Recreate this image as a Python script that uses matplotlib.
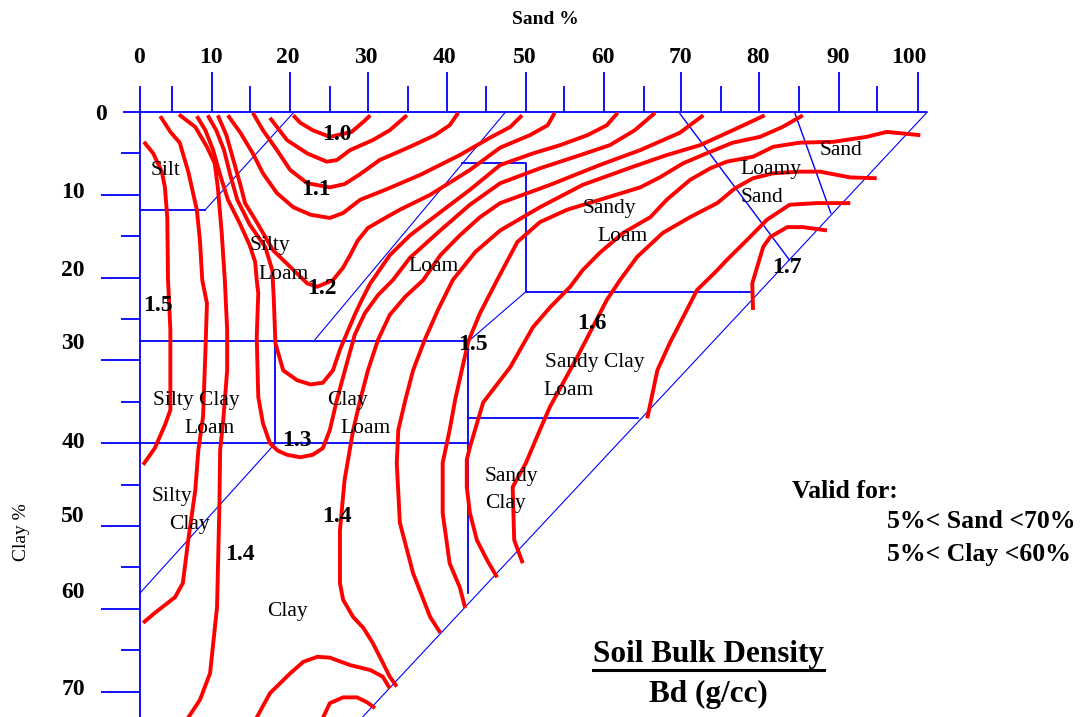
import matplotlib
matplotlib.use("Agg")
import matplotlib.pyplot as plt
from matplotlib.lines import Line2D

plt.rcParams['font.family'] = ['Liberation Serif', 'DejaVu Serif']

# ---- bulk density contour lines (sand %, clay %) ----
c1_sand = [0.5, 1.7, 2.8, 3.2, 3.5, 3.6, 3.9, 3.9, 3.2, 1.9, 0.4]
c1_clay = [3.6, 5.0, 7.2, 9.1, 12.7, 20.3, 26.3, 36.0, 37.8, 40.6, 42.6]

c2_sand = [2.6, 3.9, 5.1, 6.2, 7.3, 7.7, 8.0, 8.6, 8.4, 8.1, 7.5, 7.1, 6.2, 5.5, 4.5, 1.9, 0.4]
c2_clay = [0.5, 2.4, 3.7, 7.2, 11.8, 15.5, 20.3, 23.1, 29.1, 36.8, 40.8, 45.7, 51.7, 56.9, 58.6, 60.5, 61.7]

c3_sand = [5.0, 7.1, 8.6, 9.6, 10.0, 10.5, 10.9, 11.2, 11.2, 10.7, 10.3, 10.2, 9.9, 9.0, 7.7, 5.6]
c3_clay = [0.3, 1.8, 4.2, 6.2, 9.1, 14.6, 20.3, 26.3, 31.2, 37.2, 40.8, 47.7, 59.8, 67.8, 71.0, 74.0]

c4_sand = [7.3, 8.4, 9.4, 10.3, 11.3, 12.9, 14.1, 14.8, 15.0, 15.2, 15.0, 15.2, 15.8, 16.7, 17.7,
           18.9, 20.6, 22.2, 23.5, 24.4, 25.3, 26.6, 27.6, 28.9, 30.6, 32.5, 34.7, 38.6, 42.4, 46.3,
           51.4, 56.6, 60.4, 63.6, 66.2]
c4_clay = [0.5, 2.2, 4.6, 7.6, 10.6, 13.6, 16.1, 18.1, 20.3, 21.9, 27.2, 34.4, 37.6, 40.0, 40.9,
           41.4, 41.7, 41.4, 40.6, 38.4, 34.8, 30.3, 26.9, 24.3, 22.1, 20.3, 17.6, 14.3, 11.2, 8.6,
           6.8, 5.2, 4.0, 2.2, 0.1]

c5_sand = [8.7, 9.8, 10.8, 11.6, 12.5, 14.1, 16.1, 17.0, 17.2, 17.4, 18.4, 20.2, 21.9, 23.5, 24.8,
           25.7, 26.6, 27.6, 28.5, 29.6, 32.1, 34.7, 38.6, 42.4, 46.3, 50.5, 54.0, 57.5, 60.0, 61.4]
c5_clay = [0.4, 2.2, 4.6, 7.6, 10.6, 13.6, 16.3, 19.1, 22.7, 27.9, 31.2, 32.4, 32.9, 32.7, 31.2,
           28.7, 26.7, 24.5, 22.7, 20.7, 17.3, 14.9, 12.1, 9.4, 6.4, 5.0, 4.0, 2.8, 1.6, 0.1]

c6_sand = [10.0, 11.1, 12.0, 12.9, 13.5, 15.0, 17.1, 19.3, 21.5, 22.8, 24.8, 26.1, 27.0, 28.0,
           29.3, 31.5, 33.4, 37.3, 42.4, 46.3, 50.1, 52.4, 53.3]
c6_clay = [0.4, 2.8, 5.8, 8.8, 11.0, 13.3, 16.7, 18.7, 20.7, 21.1, 20.3, 18.8, 17.3, 15.5,
           14.0, 12.8, 11.8, 10.0, 7.0, 4.3, 2.8, 1.6, 0.1]

c7_sand = [11.3, 12.9, 14.5, 15.8, 17.6, 19.7, 21.9, 24.4, 26.1, 28.3, 31.5, 36.0, 41.1, 45.0, 47.6, 49.1]
c7_clay = [0.4, 2.5, 5.0, 7.4, 9.8, 11.5, 12.4, 12.8, 12.2, 10.6, 9.4, 7.6, 5.2, 3.1, 1.8, 0.4]

c8_sand = [14.5, 15.8, 17.6, 19.3, 21.5, 24.4, 26.3, 28.3, 30.8, 34.7, 37.9, 39.8, 40.9]
c8_clay = [0.1, 2.2, 4.6, 7.0, 8.6, 9.1, 8.7, 7.5, 5.8, 4.2, 2.8, 1.6, 0.1]

c9_sand = [16.7, 18.9, 21.5, 24.0, 25.3, 27.0, 29.9, 32.1, 34.3]
c9_clay = [0.7, 3.4, 5.0, 6.0, 5.8, 4.6, 3.4, 2.2, 0.4]

c10_sand = [19.7, 20.6, 22.2, 24.4, 27.2, 28.7, 29.6]
c10_clay = [0.4, 1.3, 2.2, 3.0, 2.4, 1.2, 0.4]

c11_sand = [33.0, 32.1, 31.2, 29.9, 28.7, 27.4, 26.1, 25.7, 25.7, 26.3, 27.4, 28.3, 29.3, 30.6,
            32.1, 34.1, 36.4, 38.6, 41.1, 43.7, 46.3, 52.7, 59.1, 64.3, 69.4, 72.4]
c11_clay = [69.4, 68.2, 66.5, 64.1, 62.3, 61.0, 58.9, 56.9, 50.5, 44.4, 38.4, 34.8, 31.2, 27.5,
            24.5, 22.3, 20.3, 17.3, 14.9, 12.7, 11.0, 8.8, 6.4, 4.6, 2.5, 0.4]

c12_sand = [38.6, 37.3, 35.1, 33.4, 33.0, 33.2, 34.1, 35.1, 36.6, 38.3, 40.2, 43.1, 46.3, 51.4,
            56.9, 63.4, 67.7, 72.0, 76.2, 80.3]
c12_clay = [62.9, 61.0, 55.7, 49.6, 42.4, 38.4, 34.8, 31.2, 27.5, 23.9, 20.3, 16.9, 14.3, 11.5,
            8.8, 6.6, 5.2, 4.0, 2.2, 0.4]

c13_sand = [41.8, 41.1, 39.8, 38.9, 38.9, 39.8, 40.5, 41.5, 42.2, 43.7, 45.9, 48.5, 51.4, 54.9,
            59.1, 64.3, 66.8, 69.8, 72.8, 76.2, 79.7, 82.6, 85.2]
c13_clay = [59.9, 57.4, 54.5, 48.4, 42.4, 38.4, 34.8, 30.6, 27.7, 24.3, 20.3, 15.7, 13.3, 11.8,
            10.6, 9.1, 7.9, 6.2, 5.0, 3.7, 3.0, 1.8, 0.4]

c14_sand = [45.9, 44.6, 43.3, 42.4, 42.0, 42.0, 42.4, 44.1, 47.6, 50.5, 52.7, 55.3, 56.9, 59.1,
            62.1, 65.6, 67.7, 70.7, 73.3, 75.4, 78.8, 81.4, 84.8, 89.1, 93.4, 96.0, 100.3]
c14_clay = [56.2, 54.1, 51.7, 48.4, 45.3, 42.0, 40.5, 35.1, 30.8, 26.0, 23.6, 21.1, 19.1, 17.0,
            14.6, 12.7, 10.6, 8.2, 6.8, 6.0, 5.4, 4.2, 3.7, 3.6, 3.0, 2.4, 2.8]

c15_sand = [49.2, 48.1, 47.9, 49.6, 51.4, 52.7, 56.2, 57.8, 60.0, 61.7, 63.9, 67.2, 70.7, 74.2,
            76.5, 78.8, 81.4, 84.8, 87.4, 91.3, 94.7]
c15_clay = [54.5, 51.7, 45.3, 42.4, 38.4, 35.6, 29.6, 26.7, 22.7, 20.3, 17.5, 14.6, 12.7, 11.0,
            9.2, 8.0, 7.4, 7.2, 7.2, 7.9, 8.0]

c16_sand = [65.2, 66.5, 68.1, 69.8, 71.6, 74.2, 75.4, 78.4, 80.6, 83.5, 87.0, 91.3]
c16_clay = [37.0, 31.2, 27.9, 24.8, 21.5, 19.1, 17.9, 15.1, 13.0, 11.2, 11.0, 11.0]

c17_sand = [78.8, 78.7, 80.1, 81.0, 83.2, 85.2, 88.3]
c17_clay = [23.9, 20.7, 16.3, 15.1, 13.9, 13.9, 14.3]

b1_sand = [14.5, 16.7, 19.3, 21.0, 22.8, 24.4, 27.0, 29.6, 31.2, 32.1]
b1_clay = [74.0, 70.2, 67.8, 66.4, 65.8, 65.9, 66.8, 67.4, 68.2, 69.6]

b2_sand = [23.1, 24.4, 26.1, 27.9, 29.2, 30.2]
b2_clay = [74.0, 71.4, 70.7, 70.7, 71.3, 72.0]

contours = [(c1_sand, c1_clay), (c2_sand, c2_clay), (c3_sand, c3_clay), (c4_sand, c4_clay),
            (c5_sand, c5_clay), (c6_sand, c6_clay), (c7_sand, c7_clay), (c8_sand, c8_clay),
            (c9_sand, c9_clay), (c10_sand, c10_clay), (c11_sand, c11_clay), (c12_sand, c12_clay),
            (c13_sand, c13_clay), (c14_sand, c14_clay), (c15_sand, c15_clay), (c16_sand, c16_clay),
            (c17_sand, c17_clay), (b1_sand, b1_clay), (b2_sand, b2_clay)]

contour_labels = ['1.0', '1.1', '1.2', '1.5', '1.5', '1.3', '1.4', '1.4', '1.6', '1.7']
contour_label_sand = [25.3, 22.6, 23.4, 2.3, 42.8, 20.2, 12.9, 25.3, 58.1, 83.2]
contour_label_clay = [2.7, 9.3, 21.3, 23.4, 28.1, 39.7, 53.4, 48.9, 25.6, 18.8]

# ---- texture triangle boundaries (sand %, clay %) ----
thick_bounds = [
    ([0, 8.4], [11.8, 11.8]),                    # silt
    ([0, 42.2], [27.7, 27.7]),                   # clay loam top
    ([0, 42.2], [40.0, 40.0]),                   # clay loam bottom
    ([17.4, 17.4], [27.7, 40.0]),
    ([42.1, 42.1], [27.7, 58.1]),                # sandy clay
    ([42.2, 64.0], [37.0, 37.0]),                # sandy clay loam bottom
    ([41.4, 49.6, 49.6, 78.8], [6.2, 6.2, 21.7, 21.7]),  # sandy loam
]
mid_bounds = [
    ([69.4, 83.5], [0.2, 17.9]),                 # loamy sand
    ([84.2, 88.8], [0.2, 12.2]),                 # sand
]
thin_bounds = [
    ([101.2, 25.7], [0.0, 76.0]),                # sand + clay = 100
    ([8.4, 19.7], [11.8, 0.1]),
    ([46.9, 22.3], [0.1, 27.7]),
    ([42.2, 49.6], [27.7, 21.7]),
    ([17.4, 0.0], [40.0, 58.1]),
]

texture_names = ['Silt', 'Silty', 'Loam', 'Loam', 'Silty Clay', 'Loam', 'Clay', 'Loam',
                 'Silty', 'Clay', 'Clay', 'Sandy', 'Clay', 'Sandy Clay', 'Loam',
                 'Sandy', 'Loam', 'Loamy', 'Sand', 'Sand']
texture_sand = [3.3, 16.7, 18.5, 37.7, 7.2, 9.0, 26.6, 29.0, 4.1, 6.3, 18.9, 47.7, 47.0,
                58.4, 55.1, 60.3, 62.0, 81.1, 79.9, 90.1]
texture_clay = [7.1, 16.1, 19.6, 18.6, 34.8, 38.2, 34.8, 38.2, 46.4, 49.8, 60.3, 44.0, 47.3,
                30.2, 33.6, 11.6, 15.0, 7.0, 10.3, 4.6]

# axis ticks as drawn on the (hand made) chart
sand_tick_pos = [4.1, 9.2, 14.1, 19.3, 24.4, 29.3, 34.4, 39.5, 44.5, 49.6, 54.5, 59.7, 64.8,
                 69.6, 74.7, 79.6, 84.7, 89.8, 94.7, 100.0]
sand_tick_long = [False, True] * 10
sand_labels = [0, 10, 20, 30, 40, 50, 60, 70, 80, 90, 100]
sand_label_pos = [-0.1, 9.1, 19.0, 29.0, 39.1, 49.4, 59.5, 69.5, 79.5, 89.8, 98.8]

clay_tick_pos = [5, 10, 15, 20, 25, 30, 35, 40, 45, 50, 55, 60, 65, 70]
clay_tick_long = [False, True] * 7
clay_labels = [0, 10, 20, 30, 40, 50, 60, 70]
clay_label_pos = [0.3, 9.7, 19.1, 28.0, 39.9, 48.9, 58.0, 69.7]

BLUE = '#0000ff'
RED = '#ff0000'

fig = plt.figure(figsize=(10.86, 7.17), dpi=100)
ax = fig.add_axes([0, 0, 1, 1])
ax.set_xlim(-18.0, 121.6)
ax.set_ylim(73.07, -13.53)
ax.axis('off')

# axes lines
ax.plot([0, 0], [-3.1, 76], color=BLUE, lw=1.3, solid_capstyle='butt')
ax.plot([-2.2, 101.2], [0, 0], color=BLUE, lw=1.3, solid_capstyle='butt')
for v, lg in zip(sand_tick_pos, sand_tick_long):
    ax.plot([v, v], [0, -4.8 if lg else -3.1], color=BLUE, lw=1.3, solid_capstyle='butt')
for v, lg in zip(clay_tick_pos, clay_tick_long):
    ax.plot([0, -5.0 if lg else -2.4], [v, v], color=BLUE, lw=1.3, solid_capstyle='butt')
for v, p in zip(sand_labels, sand_label_pos):
    ax.text(p, -6.6, str(v), ha='center', va='center', fontsize=17, fontweight='bold')
for v, p in zip(clay_labels, clay_label_pos):
    if v == 0:
        ax.text(-5.0, p, str(v), ha='center', va='center', fontsize=17, fontweight='bold')
    else:
        ax.text(-7.1, p, str(v), ha='right', va='center', fontsize=17, fontweight='bold')

ax.text(52.1, -11.2, 'Sand %', ha='center', va='center', fontsize=14, fontweight='bold')
ax.text(-15.2, 50.8, 'Clay %', ha='center', va='center', fontsize=14, rotation=90)

# texture boundaries
for xs, ys in thick_bounds:
    ax.plot(xs, ys, color=BLUE, lw=1.3)
for xs, ys in mid_bounds:
    ax.plot(xs, ys, color=BLUE, lw=1.0)
for xs, ys in thin_bounds:
    ax.plot(xs, ys, color=BLUE, lw=0.8)

# contours
for xs, ys in contours:
    ax.plot(xs, ys, color=RED, lw=2.8, solid_joinstyle='round', solid_capstyle='butt')

for t, x, y in zip(texture_names, texture_sand, texture_clay):
    ax.text(x, y, t, ha='center', va='center', fontsize=15.5)

for t, x, y in zip(contour_labels, contour_label_sand, contour_label_clay):
    ax.text(x, y, t, ha='center', va='center', fontsize=17, fontweight='bold')

ax.text(83.8, 45.8, 'Valid for:', ha='left', va='center', fontsize=18.5, fontweight='bold')
ax.text(96.0, 49.5, '5%< Sand <70%', ha='left', va='center', fontsize=18.5, fontweight='bold')
ax.text(96.0, 53.4, '5%< Clay <60%', ha='left', va='center', fontsize=18.5, fontweight='bold')

title = ax.text(73.1, 65.5, 'Soil Bulk Density', ha='center', va='center',
                fontsize=22.5, fontweight='bold')
ax.text(73.1, 70.4, 'Bd (g/cc)', ha='center', va='center', fontsize=22.5, fontweight='bold')

# underline the title
fig.canvas.draw()
bb = title.get_window_extent()
W, H = fig.bbox.width, fig.bbox.height
fig.add_artist(Line2D([bb.x0 / W, bb.x1 / W], [(bb.y0 - 1) / H] * 2,
                      color='black', lw=2.2, transform=fig.transFigure))

fig.savefig('out.png', dpi=100)
